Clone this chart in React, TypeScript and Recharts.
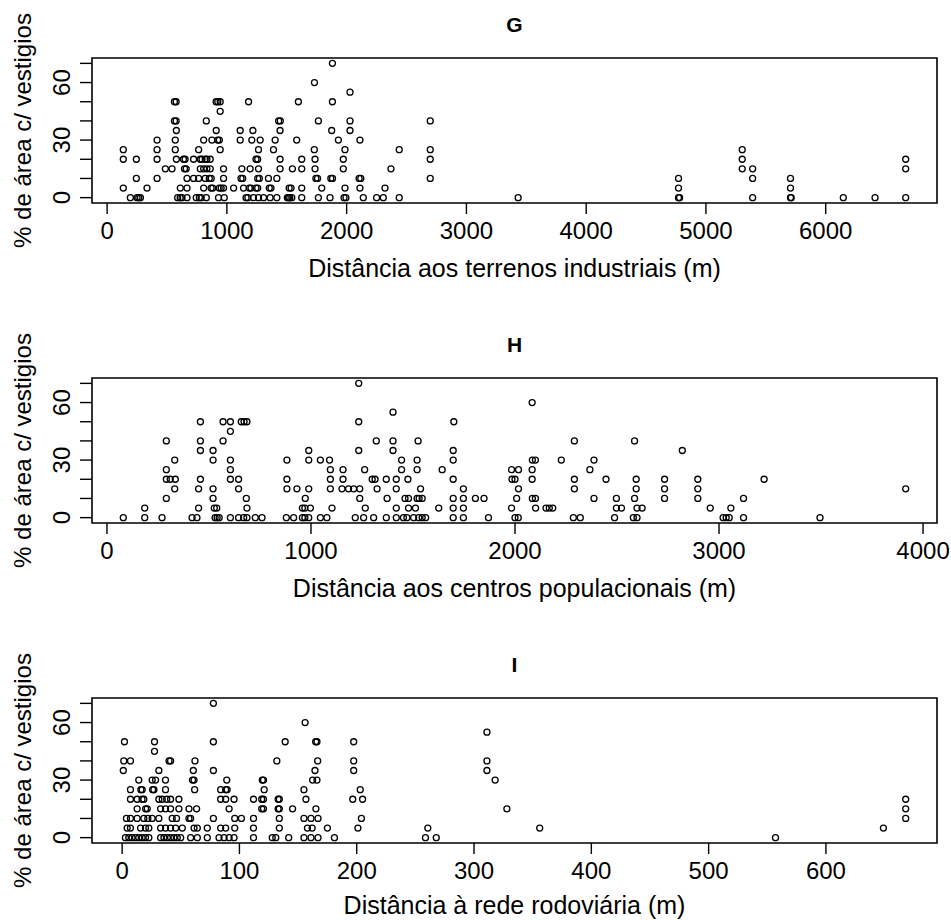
import React from 'react';
import { ScatterChart, Scatter, XAxis, YAxis, ReferenceArea } from 'recharts';

const FONT = '"Liberation Sans", Arial, Helvetica, sans-serif';

const Y_TITLE = '% de área c/ vestigios';
const Y_TICKS = [0, 10, 20, 30, 40, 50, 60, 70];
const Y_LABELED = [0, 30, 60];

const TITLE_G = 'G';
const X_TITLE_G = 'Distância aos terrenos industriais (m)';
const X_TICKS_G = [0, 1000, 2000, 3000, 4000, 5000, 6000];

const TITLE_H = 'H';
const X_TITLE_H = 'Distância aos centros populacionais (m)';
const X_TICKS_H = [0, 1000, 2000, 3000, 4000];

const TITLE_I = 'I';
const X_TITLE_I = 'Distância à rede rodoviária (m)';
const X_TICKS_I = [0, 100, 200, 300, 400, 500, 600];

// [distance, % area] pairs
const POINTS_G: [number, number][] = [
  [194,0],[250,0],[264,0],[278,0],[589,0],[610,0],[625,0],[667,0],[744,0],[770,0],[785,0],[828,0],[930,0],[978,0],[1160,0],[1175,0],[1222,0],[1264,0],[1306,0],[1361,0],[1417,0],[1505,0],[1514,0],[1525,0],[1542,0],[1625,0],[1764,0],[1861,0],[1978,0],[1994,0],[2139,0],[2250,0],[2306,0],[2439,0],[3432,0],[4771,0],[4780,0],[5390,0],[5706,0],[5712,0],[6147,0],[6412,0],[6668,0],
  [135,5],[333,5],[611,5],[667,5],[806,5],[868,5],[882,5],[936,5],[952,5],[972,5],[1056,5],[1139,5],[1187,5],[1201,5],[1243,5],[1257,5],[1354,5],[1368,5],[1520,5],[1536,5],[1625,5],[1792,5],[1986,5],[2111,5],[2320,5],[4771,5],[5706,5],
  [244,10],[417,10],[667,10],[722,10],[764,10],[819,10],[853,10],[869,10],[972,10],[1118,10],[1132,10],[1257,10],[1271,10],[1347,10],[1417,10],[1743,10],[1757,10],[1868,10],[1882,10],[2104,10],[2118,10],[2698,10],[4771,10],[5390,10],[5706,10],
  [486,15],[542,15],[646,15],[660,15],[778,15],[806,15],[833,15],[861,15],[972,15],[1125,15],[1194,15],[1264,15],[1444,15],[1547,15],[1625,15],[1736,15],[1972,15],[2370,15],[5303,15],[5390,15],[6668,15],
  [135,20],[244,20],[417,20],[578,20],[637,20],[651,20],[722,20],[778,20],[792,20],[819,20],[833,20],[861,20],[1243,20],[1257,20],[1444,20],[1625,20],[1736,20],[1972,20],[2698,20],[5303,20],[6668,20],
  [135,25],[417,25],[569,25],[764,25],[944,25],[1264,25],[1389,25],[1730,25],[1986,25],[2439,25],[2698,25],[5303,25],
  [417,30],[569,30],[806,30],[875,30],[923,30],[937,30],[1111,30],[1208,30],[1278,30],[1403,30],[1583,30],[1931,30],[2111,30],
  [578,35],[911,35],[1111,35],[1217,35],[1444,35],[1875,35],[2028,35],
  [562,40],[576,40],[828,40],[1432,40],[1446,40],[1764,40],[2028,40],[2698,40],
  [944,45],
  [562,50],[576,50],[910,50],[924,50],[944,50],[1181,50],[1597,50],[1881,50],
  [2028,55],[1731,60],[1881,70],
];

const POINTS_H: [number, number][] = [
  [80,0],[185,0],[270,0],[417,0],[441,0],[530,0],[540,0],[550,0],[605,0],[645,0],[670,0],[686,0],[727,0],[760,0],[879,0],[915,0],[958,0],[970,0],[989,0],[1046,0],[1078,0],[1217,0],[1258,0],[1307,0],[1369,0],[1418,0],[1453,0],[1470,0],[1503,0],[1528,0],[1545,0],[1562,0],[1697,0],[1747,0],[1870,0],[2000,0],[2016,0],[2286,0],[2320,0],[2488,0],[2580,0],[2598,0],[3020,0],[3035,0],[3050,0],[3120,0],[3495,0],
  [185,5],[449,5],[526,5],[538,5],[686,5],[958,5],[970,5],[997,5],[1103,5],[1266,5],[1418,5],[1478,5],[1512,5],[1626,5],[1697,5],[1747,5],[1983,5],[2101,5],[2152,5],[2168,5],[2185,5],[2497,5],[2522,5],[2598,5],[2623,5],[2957,5],[3058,5],
  [291,10],[520,10],[683,10],[972,10],[1239,10],[1373,10],[1461,10],[1478,10],[1520,10],[1530,10],[1545,10],[1697,10],[1747,10],[1806,10],[1848,10],[2008,10],[2085,10],[2100,10],[2387,10],[2497,10],[2586,10],[2733,10],[2896,10],[3120,10],
  [332,15],[449,15],[520,15],[645,15],[882,15],[931,15],[989,15],[1095,15],[1152,15],[1184,15],[1209,15],[1239,15],[1324,15],[1418,15],[1537,15],[1747,15],[2017,15],[2291,15],[2594,15],[2733,15],[2896,15],[3915,15],
  [291,20],[310,20],[335,20],[458,20],[605,20],[645,20],[882,20],[1095,20],[1157,20],[1300,20],[1314,20],[1369,20],[1418,20],[1475,20],[1697,20],[1985,20],[2000,20],[2084,20],[2291,20],[2446,20],[2594,20],[2733,20],[2896,20],[3221,20],
  [291,25],[605,25],[1095,25],[1157,25],[1263,25],[1444,25],[1520,25],[1643,25],[1983,25],[2017,25],[2084,25],[2367,25],
  [332,30],[520,30],[605,30],[882,30],[989,30],[1046,30],[1091,30],[1444,30],[1520,30],[1697,30],[2085,30],[2100,30],[2227,30],[2387,30],
  [458,35],[520,35],[989,35],[1234,35],[1402,35],[1697,35],[2820,35],
  [291,40],[458,40],[569,40],[1320,40],[1402,40],[1525,40],[2291,40],[2586,40],
  [605,45],
  [458,50],[569,50],[605,50],[658,50],[672,50],[686,50],[1234,50],[1700,50],
  [1402,55],[2084,60],[1234,70],
];

const POINTS_I: [number, number][] = [
  [2.8,0],[5.7,0],[8.5,0],[11.4,0],[14.2,0],[17.1,0],[19.9,0],[22.8,0],[32.8,0],[35.6,0],[38.5,0],[41.3,0],[44.2,0],[47,0],[49.9,0],[58.4,0],[64.1,0],[72.6,0],[82.6,0],[86.9,0],[91.2,0],[95.4,0],[112,0],[128,0],[131,0],[142,0],[155,0],[161,0],[167,0],[181,0],[258.6,0],[267.8,0],[557,0],
  [4.3,5],[7.1,5],[15.7,5],[19.9,5],[22.8,5],[32.8,5],[37,5],[41.3,5],[45.6,5],[51.3,5],[61.3,5],[64.1,5],[72.6,5],[84,5],[88.3,5],[96,5],[112,5],[134,5],[158,5],[162,5],[175,5],[201,5],[260.6,5],[356,5],[649,5],
  [3.7,10],[7.1,10],[12.8,10],[18.5,10],[21.9,10],[25.6,10],[31.3,10],[42.7,10],[46.4,10],[57,10],[58.4,10],[77.8,10],[96,10],[101.7,10],[112,10],[134,10],[155,10],[161,10],[167,10],[204,10],[668,10],
  [12.8,15],[20,15],[21.4,15],[32.8,15],[37,15],[41.3,15],[48.4,15],[57,15],[63.5,15],[91.2,15],[119,15],[120.5,15],[133,15],[134,15],[145.3,15],[165.2,15],[328,15],[668,15],
  [7.1,20],[12.8,20],[17,20],[18.5,20],[31.3,20],[34.2,20],[38,20],[41.3,20],[48.4,20],[84,20],[88.3,20],[95.4,20],[112,20],[119,20],[120.5,20],[133,20],[134,20],[156.7,20],[196.6,20],[205,20],[668,20],
  [7.1,25],[16,25],[17.1,25],[26,25],[27.1,25],[37,25],[61.8,25],[84,25],[88.3,25],[89.5,25],[121.1,25],[155,25],[203,25],
  [14.2,30],[25.6,30],[28.5,30],[37,30],[60,30],[61.3,30],[89.2,30],[119.5,30],[120.5,30],[162.4,30],[166.1,30],[318,30],
  [1,35],[31.3,35],[60.7,35],[77.8,35],[164.4,35],[197.4,35],[311,35],
  [1.4,40],[7.1,40],[40,40],[41.3,40],[62.1,40],[131.9,40],[166.7,40],[197.4,40],[311,40],
  [27.6,45],
  [2,50],[27.6,50],[77.8,50],[139,50],[165,50],[166.1,50],[197.4,50],
  [311,55],[156,60],[77.8,70],
];

// R-style axis range: data range extended by 4% on each side
const rRange = (vals: number[]): [number, number] => {
  const lo = Math.min(...vals);
  const hi = Math.max(...vals);
  const d = (hi - lo) * 0.04;
  return [lo - d, hi + d];
};

const YTick = (props: any) => {
  const { x, y, payload } = props;
  if (!Y_LABELED.includes(payload.value)) return <g />;
  return (
    <text
      x={x}
      y={y}
      transform={`rotate(-90 ${x} ${y})`}
      textAnchor="middle"
      fontSize={24}
      fontFamily={FONT}
      fill="#000"
    >
      {payload.value}
    </text>
  );
};

const YTitle = (props: any) => {
  const vb = props.viewBox || { x: 0, y: 58, width: 92, height: 145 };
  const x = vb.x + 31;
  const y = vb.y + vb.height / 2;
  return (
    <text
      x={x}
      y={y}
      transform={`rotate(-90 ${x} ${y})`}
      textAnchor="middle"
      fontSize={24}
      fontFamily={FONT}
      fill="#000"
    >
      {Y_TITLE}
    </text>
  );
};

const Circle = (props: any) => {
  const { cx, cy } = props;
  if (cx == null || cy == null) return <g />;
  return <circle cx={cx} cy={cy} r={3} fill="none" stroke="#000" strokeWidth={1.3} />;
};

type PanelProps = {
  title: string;
  xTitle: string;
  points: [number, number][];
  xTicks: number[];
  top: number;
  height: number;
  titleOffset: number;
};

const Panel = ({ title, xTitle, points, xTicks, top, height, titleOffset }: PanelProps) => {
  const data = points.map(([x, y]) => ({ x, y }));
  const xDomain = rRange(points.map((p) => p[0]));
  const yDomain = rRange(points.map((p) => p[1]));
  const plotTop = 58;
  const plotHeight = 145;
  return (
    <div style={{ position: 'absolute', left: 0, top, width: 951, height }}>
      <div
        style={{
          position: 'absolute',
          left: 92,
          width: 845,
          top: 14,
          textAlign: 'center',
          fontFamily: FONT,
          fontWeight: 'bold',
          fontSize: 21,
          lineHeight: '21px',
          color: '#000',
        }}
      >
        {title}
      </div>
      <ScatterChart
        width={951}
        height={height}
        margin={{ top: plotTop, right: 14, bottom: 0, left: 0 }}
      >
        <XAxis
          type="number"
          dataKey="x"
          domain={xDomain}
          ticks={xTicks}
          interval={0}
          allowDataOverflow
          axisLine={false}
          tickSize={11}
          tickMargin={8}
          tickLine={{ stroke: '#000', strokeWidth: 1.4 }}
          tick={{ fill: '#000', fontSize: 24, fontFamily: FONT }}
          height={height - plotTop - plotHeight}
          label={{
            value: xTitle,
            position: 'insideTop',
            offset: titleOffset,
            fill: '#000',
            fontSize: 25,
            fontFamily: FONT,
          }}
        />
        <YAxis
          type="number"
          dataKey="y"
          domain={yDomain}
          ticks={Y_TICKS}
          interval={0}
          allowDataOverflow
          axisLine={false}
          width={92}
          tickSize={12}
          tickMargin={10}
          tickLine={{ stroke: '#000', strokeWidth: 1.4 }}
          tick={<YTick />}
          label={<YTitle />}
        />
        <ReferenceArea
          x1={xDomain[0]}
          x2={xDomain[1]}
          y1={yDomain[0]}
          y2={yDomain[1]}
          fill="none"
          fillOpacity={0}
          stroke="#000"
          strokeWidth={1.6}
          ifOverflow="visible"
        />
        <Scatter data={data} shape={<Circle />} isAnimationActive={false} />
      </ScatterChart>
    </div>
  );
};

export default function App() {
  return (
    <div
      style={{
        position: 'absolute',
        left: 0,
        top: 0,
        width: 951,
        height: 920,
        background: '#fff',
        overflow: 'hidden',
      }}
    >
      <Panel title={TITLE_G} xTitle={X_TITLE_G} points={POINTS_G} xTicks={X_TICKS_G} top={0} height={320} titleOffset={56} />
      <Panel title={TITLE_H} xTitle={X_TITLE_H} points={POINTS_H} xTicks={X_TICKS_H} top={320} height={320} titleOffset={56} />
      <Panel title={TITLE_I} xTitle={X_TITLE_I} points={POINTS_I} xTicks={X_TICKS_I} top={640} height={280} titleOffset={53} />
    </div>
  );
}
